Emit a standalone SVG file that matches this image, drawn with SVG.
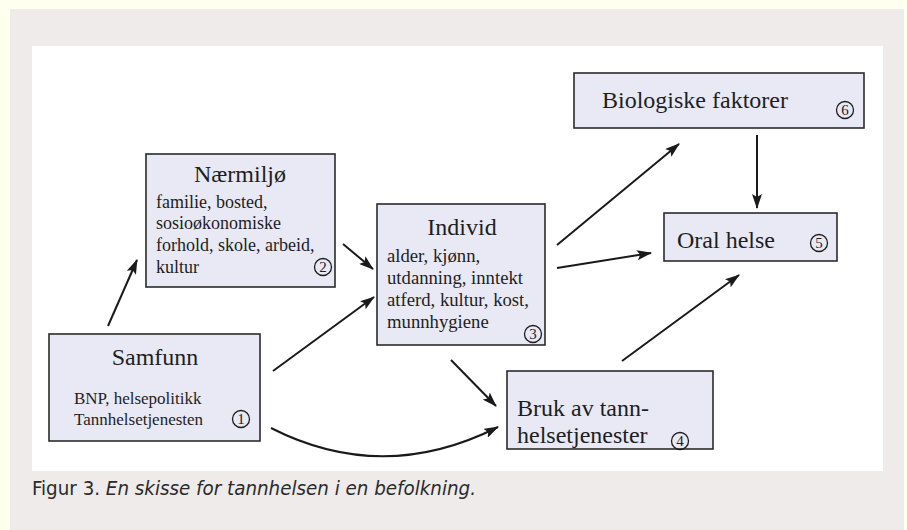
<svg xmlns="http://www.w3.org/2000/svg" width="907" height="530" viewBox="0 0 907 530">
<defs>
<marker id="ah" markerWidth="15" markerHeight="10" refX="14" refY="5" orient="auto" markerUnits="userSpaceOnUse">
<path d="M0,0 L15,5 L0,10 L3,5 z" fill="#1a1a1a"/>
</marker>
<style>
.box{fill:#e8e9f5;stroke:#2b2b2b;stroke-width:1.6}
.t{font-family:"Liberation Serif","Times New Roman",serif;fill:#1e1e1e}
.ti{font-size:24px;text-anchor:middle}
.tb{font-size:24px}
.bd{font-size:17px}
.cn{fill:none;stroke:#1e1e1e;stroke-width:1.3}
.cd{font-family:"Liberation Serif",serif;font-size:15px;text-anchor:middle;fill:#1e1e1e}
.ln{fill:none;stroke:#1a1a1a;stroke-width:2;marker-end:url(#ah)}
.cap{font-family:"Liberation Sans Narrow","DejaVu Sans Condensed","Liberation Sans",sans-serif;font-stretch:condensed;font-size:20px;fill:#2a2a2a}
</style>
</defs>
<rect x="0" y="0" width="907" height="530" fill="#fffff0"/>
<rect x="10" y="9" width="894" height="521" fill="#eeebea"/>
<rect x="32" y="46" width="851" height="425" fill="#ffffff"/>

<g id="edges">
<path class="ln" d="M108,326 L137,260"/>
<path class="ln" d="M273,371 L374,297"/>
<path class="ln" d="M343,244 L373,269"/>
<path class="ln" d="M451,360 L496,406"/>
<path class="ln" d="M271,428 Q383,485 498,427"/>
<path class="ln" d="M557,245 L679,144"/>
<path class="ln" d="M557,268 L651,253"/>
<path class="ln" d="M622,361 L739,275"/>
<path class="ln" d="M757,135 L757,208"/>
</g>

<g id="n1">
<rect class="box" x="49" y="334" width="211" height="107"/>
<text class="t ti" x="155" y="365">Samfunn</text>
<text class="t bd" x="74" y="404">BNP, helsepolitikk</text>
<text class="t bd" x="74" y="425">Tannhelsetjenesten</text>
<circle class="cn" cx="241" cy="419" r="8.5"/>
<text class="cd" x="241" y="424">1</text>
</g>

<g id="n2">
<rect class="box" x="146" y="154" width="189" height="133"/>
<text class="t ti" x="240" y="182">Nærmiljø</text>
<g style="font-size:18px">
<text class="t" x="156" y="208">familie, bosted,</text>
<text class="t" x="156" y="229">sosioøkonomiske</text>
<text class="t" x="156" y="251">forhold, skole, arbeid,</text>
<text class="t" x="156" y="273">kultur</text>
</g>
<circle class="cn" cx="323" cy="267" r="8.5"/>
<text class="cd" x="323" y="272">2</text>
</g>

<g id="n3">
<rect class="box" x="377" y="204" width="168" height="141"/>
<text class="t ti" x="462" y="235">Individ</text>
<g style="font-size:18.7px">
<text class="t" x="387" y="262">alder, kjønn,</text>
<text class="t" x="387" y="284">utdanning, inntekt</text>
<text class="t" x="387" y="306">atferd, kultur, kost,</text>
<text class="t" x="387" y="328">munnhygiene</text>
</g>
<circle class="cn" cx="533" cy="334" r="8.5"/>
<text class="cd" x="533" y="339">3</text>
</g>

<g id="n4">
<rect class="box" x="507" y="371" width="206" height="78"/>
<text class="t tb" x="517" y="416">Bruk av tann-</text>
<text class="t tb" x="517" y="443">helsetjenester</text>
<circle class="cn" cx="680" cy="441" r="8.5"/>
<text class="cd" x="680" y="446">4</text>
</g>

<g id="n5">
<rect class="box" x="664" y="213" width="173" height="48"/>
<text class="t tb" x="677" y="248">Oral helse</text>
<circle class="cn" cx="819" cy="243" r="8.5"/>
<text class="cd" x="819" y="248">5</text>
</g>

<g id="n6">
<rect class="box" x="574" y="73" width="290" height="55"/>
<text class="t tb" x="602" y="108">Biologiske faktorer</text>
<circle class="cn" cx="845" cy="110" r="8.5"/>
<text class="cd" x="845" y="115">6</text>
</g>

<text class="cap" x="32" y="495" textLength="444" lengthAdjust="spacingAndGlyphs">Figur 3. <tspan font-style="italic">En skisse for tannhelsen i en befolkning.</tspan></text>
</svg>
